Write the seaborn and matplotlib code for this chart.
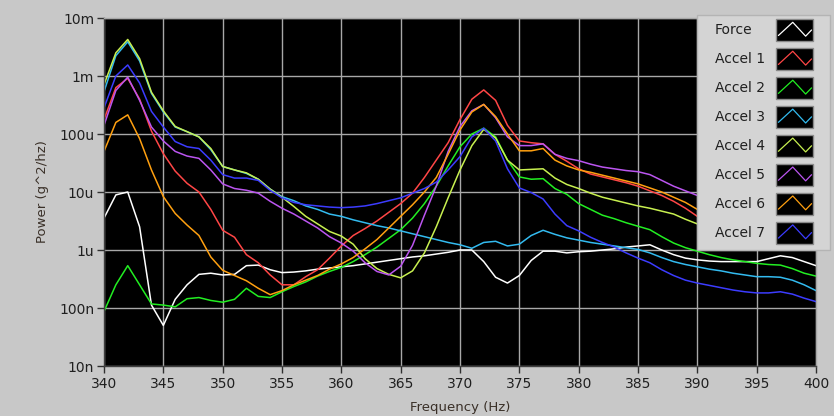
import numpy as np
import pandas as pd
import matplotlib
matplotlib.use('Agg')
import matplotlib.pyplot as plt
import matplotlib.ticker as mticker
import seaborn as sns
from matplotlib.legend_handler import HandlerBase
from matplotlib.patches import Rectangle
from matplotlib.lines import Line2D

# --- Data (log10 of power in g^2/hz, 1 Hz steps) ---
freq = list(range(340, 401))

force_log = [-5.45, -5.05, -5.0, -5.6, -6.95, -7.3, -6.85, -6.6, -6.42, -6.4,
             -6.43, -6.42, -6.27, -6.26, -6.34, -6.39, -6.38, -6.36, -6.33, -6.31,
             -6.29, -6.27, -6.24, -6.21, -6.18, -6.15, -6.12, -6.1, -6.07, -6.04,
             -6.0, -6.0, -6.2, -6.47, -6.57, -6.44, -6.18, -6.02, -6.02, -6.05,
             -6.03, -6.02, -6.0, -5.98, -5.95, -5.93, -5.91, -6.0, -6.08, -6.14,
             -6.17, -6.19, -6.2, -6.2, -6.2, -6.2, -6.15, -6.1, -6.13, -6.2, -6.27]

accel1_log = [-3.75, -3.2, -3.04, -3.4, -3.95, -4.34, -4.64, -4.85, -5.0, -5.3,
              -5.66, -5.78, -6.08, -6.22, -6.43, -6.6, -6.6, -6.46, -6.34, -6.14,
              -5.93, -5.75, -5.63, -5.5, -5.35, -5.2, -5.02, -4.75, -4.45, -4.15,
              -3.75, -3.4, -3.24, -3.42, -3.85, -4.12, -4.15, -4.17, -4.35, -4.47,
              -4.6, -4.69, -4.74, -4.79, -4.84, -4.9, -4.98, -5.06, -5.16, -5.28,
              -5.42, -5.47, -5.52, -5.56, -5.6, -5.63, -5.66, -5.68, -5.72, -5.76, -5.8]

accel2_log = [-7.06, -6.6, -6.27, -6.6, -6.93, -6.95, -6.98, -6.84, -6.82, -6.87,
              -6.9, -6.85, -6.66, -6.8, -6.82, -6.72, -6.63, -6.55, -6.45, -6.37,
              -6.3, -6.2, -6.08, -5.95, -5.8, -5.65, -5.45, -5.2, -4.9, -4.55,
              -4.22, -4.0, -3.9, -4.05, -4.45, -4.74, -4.78, -4.77, -4.94, -5.04,
              -5.2, -5.3, -5.4, -5.46, -5.53, -5.59, -5.65, -5.77, -5.88, -5.96,
              -6.02, -6.08, -6.13, -6.17, -6.2, -6.23, -6.25, -6.26, -6.32, -6.4, -6.45]

accel3_log = [-3.27, -2.65, -2.41, -2.74, -3.3, -3.62, -3.88, -3.96, -4.05, -4.27,
              -4.56, -4.62, -4.68, -4.78, -4.95, -5.08, -5.15, -5.24, -5.3, -5.38,
              -5.42, -5.48, -5.53, -5.58, -5.62, -5.67, -5.72, -5.77, -5.82, -5.87,
              -5.91, -5.97, -5.87, -5.85, -5.93, -5.9, -5.75, -5.66, -5.73, -5.79,
              -5.83, -5.87, -5.9, -5.93, -5.96, -5.99, -6.05, -6.13, -6.2, -6.25,
              -6.29, -6.33, -6.36, -6.4, -6.43, -6.46, -6.46, -6.47, -6.52, -6.6, -6.7]

accel4_log = [-3.15, -2.6, -2.37, -2.7, -3.28, -3.6, -3.87, -3.96, -4.05, -4.25,
              -4.56, -4.62, -4.67, -4.78, -4.95, -5.09, -5.25, -5.42, -5.55, -5.68,
              -5.76, -5.9, -6.15, -6.32, -6.42, -6.48, -6.36, -6.05, -5.6, -5.1,
              -4.62, -4.2, -3.92, -4.07, -4.45, -4.62, -4.61, -4.6, -4.76, -4.87,
              -4.94, -5.02, -5.09, -5.14, -5.19, -5.24, -5.28, -5.33, -5.38, -5.47,
              -5.55, -5.6, -5.63, -5.66, -5.69, -5.72, -5.75, -5.78, -5.8, -5.83, -5.85]

accel5_log = [-3.85, -3.25, -3.02, -3.42, -3.88, -4.12, -4.3, -4.38, -4.42, -4.62,
              -4.86, -4.94, -4.97, -5.02, -5.16, -5.28, -5.38, -5.5, -5.62, -5.77,
              -5.88, -6.02, -6.22, -6.37, -6.43, -6.28, -5.92, -5.4, -4.9, -4.3,
              -3.87, -3.6, -3.49, -3.72, -4.05, -4.2, -4.2, -4.17, -4.35, -4.42,
              -4.46, -4.52, -4.57, -4.6, -4.63, -4.65, -4.7, -4.8, -4.9, -4.98,
              -5.06, -5.1, -5.14, -5.18, -5.22, -5.25, -5.28, -5.3, -5.33, -5.37, -5.4]

accel6_log = [-4.3, -3.8, -3.67, -4.08, -4.62, -5.08, -5.37, -5.57, -5.75, -6.12,
              -6.35, -6.44, -6.53, -6.66, -6.77, -6.7, -6.6, -6.52, -6.44, -6.33,
              -6.24, -6.13, -5.98, -5.82, -5.62, -5.42, -5.22, -5.0, -4.75, -4.35,
              -3.93, -3.62, -3.49, -3.7, -4.0, -4.29, -4.29, -4.25, -4.45, -4.55,
              -4.62, -4.66, -4.71, -4.76, -4.81, -4.86, -4.93, -5.0, -5.09, -5.18,
              -5.3, -5.36, -5.42, -5.48, -5.53, -5.58, -5.62, -5.66, -5.7, -5.74, -5.78]

accel7_log = [-3.55, -3.0, -2.81, -3.12, -3.61, -3.88, -4.13, -4.22, -4.25, -4.45,
              -4.7, -4.76, -4.76, -4.8, -4.97, -5.1, -5.18, -5.22, -5.24, -5.26,
              -5.27, -5.26, -5.24, -5.2, -5.15, -5.1, -5.02, -4.94, -4.83, -4.62,
              -4.39, -4.05, -3.9, -4.12, -4.6, -4.93, -5.01, -5.12, -5.38, -5.58,
              -5.67, -5.78, -5.87, -5.95, -6.05, -6.14, -6.22, -6.34, -6.44, -6.52,
              -6.57, -6.61, -6.65, -6.69, -6.72, -6.74, -6.74, -6.72, -6.76, -6.83, -6.89]

channels = ['Force', 'Accel 1', 'Accel 2', 'Accel 3', 'Accel 4', 'Accel 5', 'Accel 6', 'Accel 7']
series = [force_log, accel1_log, accel2_log, accel3_log, accel4_log, accel5_log, accel6_log, accel7_log]
colors = ['#ffffff', '#ff4646', '#22ee22', '#33bbf0', '#c8f050', '#bb55f0', '#ffa010', '#3c3cff']

ytick_vals = [1e-2, 1e-3, 1e-4, 1e-5, 1e-6, 1e-7, 1e-8]
ytick_labels = ['10m', '1m', '100u', '10u', '1u', '100n', '10n']
xtick_vals = list(range(340, 401, 5))

rows = []
for name, vals in zip(channels, series):
    for f, v in zip(freq, vals):
        rows.append((name, f, 10 ** v))
df = pd.DataFrame(rows, columns=['channel', 'freq', 'power'])

# --- Styl ---
sns.set_theme(style='dark')
plt.rcParams['font.family'] = ['DejaVu Sans']

bg = '#c8c8c8'
txt = '#202020'

fig = plt.figure(figsize=(8.34, 4.16), dpi=100, facecolor=bg)
ax = fig.add_axes([104 / 834, 50 / 416, 712 / 834, 348 / 416])
ax.set_facecolor('black')

sns.lineplot(data=df, x='freq', y='power', hue='channel', hue_order=channels,
             palette=dict(zip(channels, colors)), estimator=None, sort=False,
             linewidth=1.1, legend=False, ax=ax)

ax.set_yscale('log')
ax.set_xlim(340, 400)
ax.set_ylim(1e-8, 1e-2)
ax.set_yticks(ytick_vals)
ax.set_yticklabels(ytick_labels)
ax.yaxis.set_minor_locator(mticker.NullLocator())
ax.set_xticks(xtick_vals)
ax.set_xticklabels([str(v) for v in xtick_vals])

ax.grid(True, color='#a8a8a8', linewidth=1.0)
ax.tick_params(axis='both', which='major', direction='out', length=5, width=1,
               color='#303030', labelsize=10, labelcolor=txt, pad=2,
               left=True, bottom=True)
ax.tick_params(axis='x', pad=3)

for side in ['left', 'bottom']:
    ax.spines[side].set_color('#404040')
for side in ['top', 'right']:
    ax.spines[side].set_color('#a8a8a8')
for s in ax.spines.values():
    s.set_linewidth(1.0)

ax.set_xlabel('Frequency (Hz)', fontsize=9.5, color='#3a3028', labelpad=7)
ax.set_ylabel('Power (g^2/hz)', fontsize=9.5, color='#3a3028', labelpad=7)


# --- Legenda ---
class ZigzagHandler(HandlerBase):
    def create_artists(self, legend, orig_handle, xdescent, ydescent,
                       width, height, fontsize, trans):
        x0, y0 = -xdescent, -ydescent
        box = Rectangle((x0, y0), width, height, facecolor='black',
                        edgecolor='#8a8a8a', linewidth=1.0, transform=trans)
        zx = [x0 + width * t for t in (0.06, 0.45, 0.8, 0.96)]
        zy = [y0 + height * t for t in (0.25, 0.85, 0.22, 0.5)]
        line = Line2D(zx, zy, color=orig_handle.get_color(), linewidth=0.9,
                      transform=trans)
        return [box, line]


panel = Rectangle((697 / 834, (416 - 250) / 416), 133 / 834, 235 / 416,
                  transform=fig.transFigure, facecolor='#d4d4d4',
                  edgecolor='#b4b4b4', linewidth=1.0, zorder=3)
fig.add_artist(panel)

handles = [Line2D([], [], color=c) for c in colors]
leg = fig.legend(handles, channels, loc='upper left',
                 bbox_to_anchor=(715 / 834, 1 - 19 / 416),
                 bbox_transform=fig.transFigure, frameon=False,
                 markerfirst=False, handler_map={Line2D: ZigzagHandler()},
                 handlelength=2.65, handleheight=2.06, labelspacing=0.5,
                 handletextpad=1.0, borderpad=0, borderaxespad=0,
                 fontsize=10, labelcolor=txt)
leg.set_zorder(5)

# labels left-aligned, swatches flush right (as in the original)
try:
    for col in leg._legend_handle_box.get_children():
        for item in col.get_children():
            item.mode = 'expand'
            item.width = 98
except Exception:
    pass

fig.savefig('out.png', dpi=100, facecolor=bg)
